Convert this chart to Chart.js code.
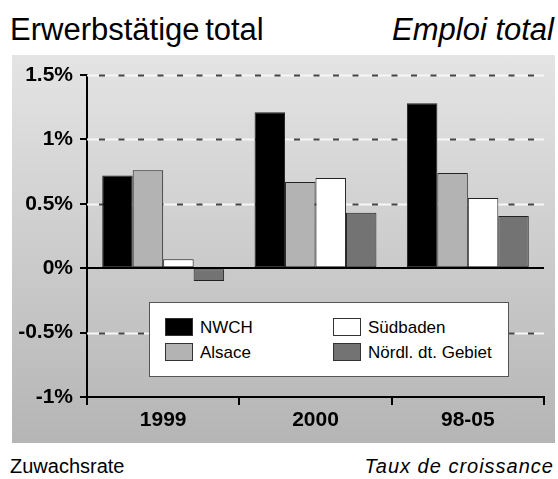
<!DOCTYPE html>
<html>
<head>
<meta charset="utf-8">
<script src="https://cdn.jsdelivr.net/npm/chart.js@4"></script>
<style>
  body { margin: 0; width: 558px; height: 479px; background: #fff; position: relative; overflow: hidden;
         font-family: "Liberation Sans", Arial, sans-serif; color: #000; }
  .txt { position: absolute; line-height: 1; white-space: nowrap; }
  #panel { position: absolute; left: 12px; top: 55px; width: 543px; height: 388px;
           background: linear-gradient(#e4e4e4, #b5b5b5); }
  #legend { position: absolute; left: 149px; top: 302px; width: 358px; height: 73px;
            background: #fff; border: 1px solid #555; }
  .item { position: absolute; font-size: 17px; line-height: 19px; }
  .sw { position: absolute; width: 26px; height: 16px; border: 1px solid #333; }
</style>
</head>
<body>
<div class="txt" style="left:10px;top:14px;font-size:31px;word-spacing:-3px;">Erwerbstätige total</div>
<div class="txt" style="right:4px;top:14px;font-size:31px;font-style:italic;">Emploi total</div>
<div id="panel"><canvas id="c" width="543" height="388"></canvas></div>
<div id="legend"></div>
<div class="txt" style="left:10px;top:456px;font-size:20px;">Zuwachsrate</div>
<div class="txt" style="right:4px;top:456px;font-size:20px;font-style:italic;letter-spacing:1px;">Taux de croissance</div>
<script>
// data (growth rate in %)
let categories = ['1999', '2000', '98-05'];
let seriesNames = ['NWCH', 'Alsace', 'Südbaden', 'Nördl. dt. Gebiet'];
let nwch = [0.72, 1.21, 1.28];
let alsace = [0.76, 0.67, 0.74];
let suedbaden = [0.07, 0.70, 0.545];
let noerdl = [-0.10, 0.43, 0.405];
let yTicks = [-1, -0.5, 0, 0.5, 1, 1.5];

let fills = ['#000000', '#b3b3b3', '#ffffff', '#737373'];
let font = '"Liberation Sans", Arial, sans-serif';

// dashed white/grey grid lines behind the bars, solid zero line on top
const gridPlugin = {
    id: 'gridPlugin',
    beforeDatasetsDraw(chart) {
        let ctx = chart.ctx, a = chart.chartArea, y = chart.scales.y;
        ctx.save();
        yTicks.forEach(v => {
            if (v === 0 || v === y.min) return;
            let py = Math.round(y.getPixelForValue(v)) + 0.5;
            ctx.setLineDash([]);
            ctx.strokeStyle = '#f6f6f6';
            ctx.lineWidth = 2;
            ctx.beginPath(); ctx.moveTo(a.left, py); ctx.lineTo(a.right, py); ctx.stroke();
            ctx.setLineDash([6, 13.5]);
            ctx.lineDashOffset = -12;
            ctx.strokeStyle = '#444';
            ctx.beginPath(); ctx.moveTo(a.left, py); ctx.lineTo(a.right, py); ctx.stroke();
        });
        ctx.restore();
    },
    afterDatasetsDraw(chart) {
        let ctx = chart.ctx, a = chart.chartArea, y = chart.scales.y;
        let py = Math.round(y.getPixelForValue(0));
        ctx.save();
        ctx.strokeStyle = '#000';
        ctx.lineWidth = 2;
        ctx.beginPath(); ctx.moveTo(a.left, py); ctx.lineTo(a.right, py); ctx.stroke();
        ctx.restore();
    }
};

let values = [nwch, alsace, suedbaden, noerdl];
let datasets = seriesNames.map((name, i) => ({
    label: name,
    data: values[i],
    backgroundColor: fills[i],
    borderColor: '#222',
    borderWidth: 1,
    borderSkipped: false,
    categoryPercentage: 0.8,
    barPercentage: 1.0
}));

const chart = new Chart(document.getElementById('c'), {
    type: 'bar',
    data: { labels: categories, datasets: datasets },
    options: {
        responsive: false,
        animation: false,
        devicePixelRatio: 1,
        layout: { padding: { top: 20, right: 11, left: 0, bottom: 0 } },
        plugins: { legend: { display: false }, tooltip: { enabled: false } },
        scales: {
            x: {
                grid: { offset: true, drawOnChartArea: false, color: '#000', lineWidth: 2, tickLength: 8 },
                border: { color: '#000', width: 2 },
                ticks: { color: '#000', font: { family: font, size: 21, weight: 'bold' }, padding: 3 },
                afterFit(s) { s.height = 46; }
            },
            y: {
                min: -1, max: 1.5,
                afterBuildTicks(s) { s.ticks = yTicks.map(v => ({ value: v })); },
                grid: { drawOnChartArea: false, color: '#000', lineWidth: 2, tickLength: 7 },
                border: { color: '#000', width: 2 },
                ticks: {
                    color: '#000', font: { family: font, size: 21, weight: 'bold' }, padding: 7,
                    callback: v => v + '%'
                },
                afterFit(s) { s.width = 75; }
            }
        }
    },
    plugins: [gridPlugin]
});

// legend box in two columns, built from the series arrays
let legend = document.getElementById('legend');
let spots = [[15, 15], [15, 40], [183, 15], [183, 40]];
seriesNames.forEach((name, i) => {
    let [lx, ly] = spots[i];
    let sw = document.createElement('div');
    sw.className = 'sw';
    sw.style.left = lx + 'px';
    sw.style.top = ly + 'px';
    sw.style.background = fills[i];
    legend.appendChild(sw);
    let t = document.createElement('div');
    t.className = 'item';
    t.style.left = (lx + 35) + 'px';
    t.style.top = ly + 'px';
    t.textContent = name;
    legend.appendChild(t);
});
</script>
</body>
</html>
